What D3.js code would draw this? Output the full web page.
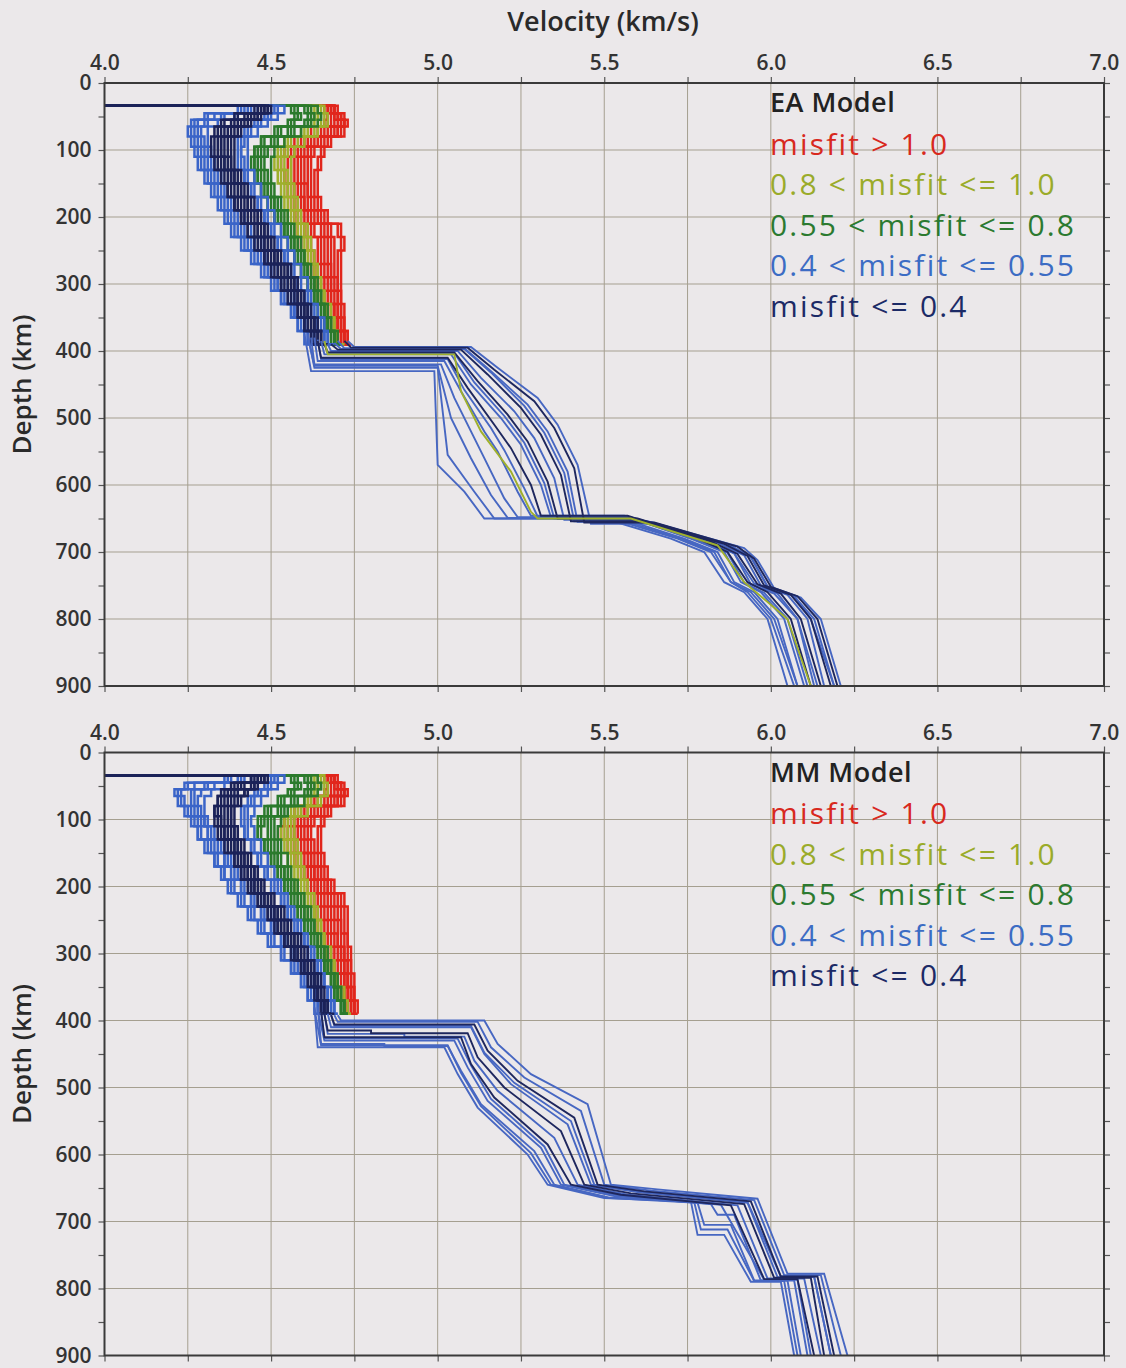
<!DOCTYPE html>
<html><head><meta charset="utf-8">
<script src="https://cdn.jsdelivr.net/npm/d3@7/dist/d3.min.js"></script>
<style>
body{margin:0;background:#ebe8ea;}
svg{display:block;font-family:"Open Sans","Noto Sans",sans-serif;}
</style></head><body>
<svg id="chart" width="1126" height="1368"></svg>
<script>
// ---------------- DATA ----------------
const xMajorTicks = [4.0, 4.5, 5.0, 5.5, 6.0, 6.5, 7.0];
const xMinorTicks = [4.0, 4.25, 4.5, 4.75, 5.0, 5.25, 5.5, 5.75, 6.0, 6.25, 6.5, 6.75, 7.0];
const yMajorTicks = [0, 100, 200, 300, 400, 500, 600, 700, 800, 900];
const yMinorTicks = [0, 50, 100, 150, 200, 250, 300, 350, 400, 450, 500, 550, 600, 650, 700, 750, 800, 850, 900];
const xTitle = "Velocity (km/s)";
const yTitle = "Depth (km)";
const panelTitles = ["EA Model", "MM Model"];
const legendLabels = ["misfit > 1.0", "0.8 < misfit <= 1.0", "0.55 < misfit <= 0.8", "0.4 < misfit <= 0.55", "misfit <= 0.4"];
const crustVelocity = 3.6;
// layer tops of the upper-mantle part (km)
const upperDepths = [34, 45, 55, 65, 80, 95, 110, 130, 150, 170, 190, 210, 230, 250, 270, 290, 310, 330, 350, 370, 390];

// ---- EA model, upper mantle (velocity per layer) ----
const eaRed = [
 [4.66,4.67,4.66,4.62,4.57,4.54,4.53,4.54,4.55,4.56,4.57,4.58,4.59,4.60,4.62,4.63,4.64,4.66,4.68,4.70,4.72],
 [4.67,4.67,4.67,4.64,4.59,4.56,4.55,4.55,4.56,4.57,4.58,4.60,4.61,4.62,4.63,4.64,4.65,4.67,4.69,4.70,4.72],
 [4.67,4.68,4.68,4.65,4.60,4.57,4.56,4.56,4.57,4.58,4.59,4.61,4.62,4.63,4.64,4.65,4.66,4.68,4.69,4.71,4.72],
 [4.68,4.69,4.69,4.66,4.61,4.58,4.57,4.57,4.58,4.59,4.60,4.62,4.64,4.64,4.65,4.66,4.67,4.68,4.70,4.71,4.72],
 [4.68,4.69,4.70,4.67,4.62,4.59,4.58,4.58,4.59,4.60,4.61,4.63,4.65,4.65,4.66,4.67,4.68,4.69,4.70,4.71,4.73],
 [4.69,4.70,4.71,4.68,4.63,4.60,4.59,4.59,4.60,4.60,4.62,4.65,4.66,4.66,4.67,4.68,4.68,4.69,4.70,4.72,4.73],
 [4.68,4.70,4.71,4.69,4.64,4.61,4.60,4.60,4.61,4.61,4.63,4.66,4.67,4.67,4.68,4.68,4.69,4.70,4.71,4.72,4.73],
 [4.69,4.71,4.72,4.70,4.65,4.62,4.61,4.61,4.61,4.62,4.64,4.67,4.68,4.68,4.68,4.69,4.70,4.70,4.71,4.72,4.73],
 [4.69,4.71,4.72,4.70,4.66,4.63,4.62,4.62,4.62,4.63,4.65,4.68,4.69,4.69,4.69,4.70,4.70,4.71,4.71,4.72,4.74],
 [4.69,4.71,4.72,4.71,4.67,4.65,4.64,4.63,4.63,4.64,4.66,4.70,4.71,4.70,4.70,4.70,4.71,4.71,4.72,4.73,4.74],
 [4.70,4.72,4.73,4.72,4.68,4.66,4.65,4.64,4.64,4.65,4.67,4.71,4.72,4.71,4.71,4.71,4.71,4.72,4.72,4.73,4.74]
];
const eaOlive = [
 [4.62,4.63,4.62,4.59,4.54,4.52,4.51,4.52,4.53,4.54,4.55,4.57,4.58,4.60,4.61,4.63,4.64,4.66,4.67,4.69,4.71],
 [4.63,4.64,4.63,4.60,4.55,4.53,4.52,4.53,4.54,4.55,4.56,4.58,4.59,4.60,4.62,4.63,4.65,4.66,4.68,4.69,4.71],
 [4.64,4.65,4.65,4.61,4.56,4.54,4.53,4.54,4.55,4.56,4.57,4.59,4.60,4.61,4.63,4.64,4.65,4.67,4.68,4.70,4.71],
 [4.65,4.66,4.66,4.63,4.58,4.55,4.54,4.55,4.56,4.57,4.58,4.60,4.61,4.62,4.64,4.65,4.66,4.67,4.69,4.70,4.72],
 [4.66,4.67,4.67,4.64,4.60,4.57,4.56,4.56,4.57,4.58,4.59,4.61,4.62,4.63,4.64,4.65,4.66,4.68,4.69,4.70,4.72]
];
const eaGreen = [
 [4.56,4.57,4.55,4.51,4.47,4.45,4.44,4.45,4.47,4.49,4.51,4.53,4.55,4.57,4.59,4.61,4.62,4.64,4.66,4.68,4.70],
 [4.57,4.58,4.56,4.52,4.47,4.45,4.45,4.46,4.47,4.49,4.51,4.54,4.56,4.57,4.59,4.61,4.63,4.65,4.66,4.68,4.70],
 [4.58,4.59,4.57,4.53,4.48,4.46,4.45,4.46,4.48,4.50,4.52,4.54,4.56,4.58,4.60,4.62,4.63,4.65,4.67,4.69,4.70],
 [4.60,4.61,4.60,4.55,4.50,4.47,4.46,4.47,4.49,4.51,4.53,4.55,4.57,4.59,4.61,4.62,4.64,4.66,4.67,4.69,4.71],
 [4.61,4.62,4.61,4.56,4.51,4.48,4.47,4.48,4.49,4.51,4.53,4.55,4.57,4.59,4.61,4.63,4.64,4.66,4.67,4.69,4.71],
 [4.62,4.63,4.62,4.57,4.52,4.49,4.48,4.49,4.50,4.52,4.54,4.56,4.58,4.60,4.61,4.63,4.65,4.66,4.68,4.69,4.71],
 [4.64,4.65,4.64,4.59,4.54,4.51,4.50,4.50,4.51,4.53,4.55,4.57,4.59,4.60,4.62,4.64,4.65,4.67,4.68,4.70,4.71]
];
const eaBlue = [
 [4.40,4.30,4.26,4.25,4.26,4.27,4.28,4.30,4.32,4.34,4.36,4.38,4.41,4.44,4.47,4.50,4.53,4.56,4.58,4.60,4.62],
 [4.41,4.31,4.27,4.26,4.27,4.28,4.29,4.31,4.33,4.35,4.37,4.39,4.42,4.45,4.48,4.51,4.53,4.56,4.58,4.61,4.62],
 [4.42,4.33,4.28,4.27,4.28,4.29,4.30,4.32,4.34,4.36,4.38,4.40,4.43,4.46,4.49,4.52,4.54,4.57,4.59,4.61,4.63],
 [4.43,4.35,4.30,4.28,4.29,4.30,4.31,4.33,4.35,4.37,4.39,4.41,4.44,4.47,4.50,4.52,4.55,4.57,4.60,4.62,4.63],
 [4.44,4.36,4.31,4.29,4.30,4.31,4.32,4.34,4.36,4.38,4.40,4.42,4.45,4.48,4.50,4.53,4.56,4.58,4.60,4.62,4.64],
 [4.46,4.39,4.34,4.31,4.31,4.32,4.33,4.35,4.37,4.39,4.42,4.44,4.47,4.49,4.52,4.55,4.57,4.59,4.61,4.63,4.65],
 [4.50,4.48,4.45,4.42,4.40,4.40,4.40,4.42,4.44,4.46,4.48,4.50,4.52,4.54,4.56,4.58,4.60,4.62,4.64,4.66,4.68],
 [4.51,4.49,4.46,4.43,4.41,4.41,4.41,4.42,4.44,4.46,4.48,4.50,4.52,4.54,4.56,4.58,4.60,4.62,4.64,4.66,4.68],
 [4.52,4.50,4.47,4.44,4.42,4.41,4.42,4.43,4.45,4.47,4.49,4.51,4.53,4.55,4.57,4.59,4.61,4.63,4.65,4.67,4.68],
 [4.54,4.52,4.49,4.46,4.43,4.43,4.43,4.45,4.47,4.49,4.51,4.53,4.55,4.57,4.59,4.61,4.62,4.64,4.66,4.67,4.69]
];
const eaNavy = [
 [4.45,4.39,4.35,4.33,4.32,4.32,4.33,4.35,4.37,4.39,4.41,4.43,4.45,4.48,4.50,4.53,4.55,4.58,4.60,4.62,4.64],
 [4.46,4.40,4.36,4.34,4.33,4.33,4.34,4.36,4.37,4.39,4.41,4.43,4.46,4.48,4.51,4.53,4.56,4.58,4.60,4.62,4.64],
 [4.47,4.42,4.38,4.35,4.34,4.34,4.35,4.37,4.38,4.40,4.42,4.45,4.47,4.49,4.52,4.54,4.57,4.59,4.61,4.63,4.65],
 [4.47,4.43,4.39,4.36,4.35,4.35,4.36,4.38,4.40,4.42,4.44,4.46,4.48,4.51,4.53,4.56,4.58,4.60,4.62,4.64,4.65],
 [4.48,4.44,4.40,4.37,4.35,4.35,4.36,4.38,4.39,4.41,4.43,4.46,4.48,4.50,4.53,4.55,4.58,4.60,4.62,4.64,4.65],
 [4.48,4.45,4.41,4.38,4.36,4.36,4.37,4.39,4.41,4.43,4.45,4.47,4.49,4.51,4.54,4.56,4.58,4.61,4.63,4.64,4.66],
 [4.49,4.46,4.42,4.39,4.37,4.37,4.38,4.39,4.41,4.43,4.46,4.48,4.50,4.52,4.55,4.57,4.59,4.61,4.63,4.65,4.66],
 [4.49,4.46,4.43,4.40,4.38,4.38,4.38,4.40,4.42,4.44,4.46,4.48,4.50,4.52,4.55,4.57,4.59,4.61,4.63,4.65,4.66],
 [4.50,4.47,4.44,4.41,4.39,4.39,4.39,4.41,4.43,4.45,4.47,4.49,4.51,4.53,4.56,4.58,4.60,4.62,4.64,4.65,4.67]
];
// ---- EA model, transition zone and below: [depth, velocity] knots ----
const eaDeepBlue = [
 [[375,4.60],[430,4.62],[430,4.99],[570,5.00],[610,5.08],[650,5.14],[650,5.50],[680,5.70],[700,5.80],[745,5.86],[760,5.92],[800,5.99],[900,6.05]],
 [[375,4.61],[425,4.63],[425,5.00],[555,5.03],[610,5.11],[650,5.17],[650,5.52],[680,5.72],[700,5.82],[745,5.88],[760,5.93],[800,6.00],[900,6.07]],
 [[378,4.61],[422,4.63],[422,5.00],[500,5.04],[560,5.10],[615,5.16],[649,5.21],[649,5.53],[680,5.73],[700,5.83],[745,5.88],[760,5.94],[800,6.01],[900,6.08]],
 [[380,4.62],[420,4.63],[420,5.01],[470,5.05],[520,5.10],[560,5.14],[620,5.20],[648,5.24],[648,5.54],[680,5.74],[700,5.84],[745,5.89],[760,5.95],[800,6.02],[900,6.08]],
 [[380,4.63],[415,4.64],[415,5.02],[460,5.07],[520,5.14],[550,5.18],[610,5.24],[646,5.28],[646,5.56],[680,5.76],[700,5.86],[745,5.91],[760,5.97],[800,6.04],[900,6.10]],
 [[383,4.64],[412,4.65],[412,5.03],[458,5.08],[515,5.16],[548,5.20],[605,5.26],[647,5.30],[647,5.57],[681,5.77],[701,5.87],[746,5.92],[761,5.98],[800,6.05],[900,6.11]],
 [[385,4.65],[405,4.66],[405,5.04],[450,5.10],[500,5.19],[540,5.25],[600,5.31],[648,5.34],[648,5.58],[682,5.80],[702,5.89],[748,5.94],[762,6.01],[800,6.08],[900,6.13]],
 [[388,4.66],[403,4.67],[403,5.05],[447,5.11],[497,5.20],[537,5.26],[597,5.32],[650,5.35],[650,5.59],[683,5.81],[702,5.89],[747,5.95],[762,6.02],[800,6.08],[900,6.14]],
 [[390,4.67],[400,4.68],[400,5.06],[440,5.13],[490,5.23],[530,5.29],[590,5.35],[652,5.38],[652,5.61],[686,5.84],[705,5.92],[750,5.97],[764,6.05],[800,6.11],[900,6.16]],
 [[388,4.69],[397,4.71],[397,5.08],[432,5.16],[482,5.26],[522,5.32],[582,5.38],[654,5.41],[654,5.63],[689,5.87],[707,5.94],[751,5.99],[765,6.07],[800,6.12],[900,6.19]],
 [[385,4.70],[396,4.72],[396,5.08],[430,5.16],[480,5.27],[520,5.33],[580,5.39],[655,5.42],[655,5.64],[690,5.88],[708,5.94],[752,5.99],[766,6.07],[800,6.13],[900,6.19]],
 [[385,4.73],[394,4.75],[394,5.10],[425,5.18],[470,5.30],[510,5.36],[570,5.42],[658,5.46],[658,5.66],[694,5.92],[712,5.96],[754,6.01],[768,6.09],[800,6.15],[900,6.21]]
];
const eaDeepNavy = [
 [[385,4.64],[410,4.65],[410,5.03],[455,5.09],[510,5.17],[545,5.22],[600,5.28],[646,5.31],[646,5.57],[680,5.78],[700,5.87],[745,5.93],[760,5.99],[800,6.06],[900,6.12]],
 [[390,4.66],[402,4.67],[402,5.05],[445,5.12],[495,5.21],[535,5.27],[595,5.33],[650,5.36],[650,5.60],[684,5.82],[703,5.90],[748,5.96],[762,6.03],[800,6.09],[900,6.15]],
 [[390,4.68],[398,4.70],[398,5.07],[435,5.15],[485,5.25],[525,5.31],[585,5.37],[654,5.40],[654,5.62],[688,5.86],[706,5.93],[750,5.98],[764,6.06],[800,6.12],[900,6.18]],
 [[385,4.72],[395,4.74],[395,5.09],[428,5.17],[475,5.29],[515,5.35],[575,5.41],[656,5.44],[656,5.65],[692,5.90],[710,5.95],[752,6.00],[766,6.08],[800,6.14],[900,6.20]]
];
const eaDeepOlive = [
 [[385,4.66],[405,4.67],[405,5.05],[460,5.07],[520,5.13],[580,5.22],[640,5.28],[650,5.30],[650,5.58],[690,5.84],[745,5.92],[800,6.05],[900,6.12]]
];

// ---- MM model, upper mantle ----
const mmRed = [
 [4.66,4.67,4.66,4.62,4.57,4.54,4.53,4.55,4.57,4.59,4.61,4.62,4.63,4.64,4.66,4.67,4.68,4.70,4.71,4.72,4.73],
 [4.67,4.67,4.67,4.63,4.59,4.56,4.55,4.56,4.58,4.60,4.62,4.63,4.64,4.65,4.66,4.68,4.69,4.70,4.72,4.73,4.73],
 [4.67,4.68,4.68,4.64,4.60,4.57,4.56,4.57,4.59,4.61,4.63,4.64,4.65,4.66,4.67,4.68,4.69,4.71,4.72,4.73,4.74],
 [4.68,4.69,4.69,4.66,4.61,4.58,4.57,4.58,4.60,4.62,4.64,4.65,4.66,4.67,4.68,4.69,4.70,4.72,4.73,4.74,4.74],
 [4.68,4.69,4.70,4.67,4.62,4.59,4.58,4.59,4.61,4.63,4.64,4.66,4.67,4.68,4.69,4.70,4.71,4.72,4.73,4.74,4.74],
 [4.69,4.70,4.71,4.68,4.63,4.60,4.59,4.60,4.62,4.63,4.65,4.67,4.68,4.69,4.70,4.71,4.72,4.73,4.74,4.74,4.75],
 [4.68,4.70,4.71,4.69,4.64,4.61,4.60,4.61,4.62,4.64,4.66,4.68,4.69,4.70,4.70,4.71,4.72,4.73,4.74,4.75,4.75],
 [4.69,4.71,4.72,4.70,4.65,4.62,4.61,4.62,4.63,4.65,4.67,4.69,4.70,4.71,4.71,4.72,4.73,4.73,4.74,4.75,4.75],
 [4.69,4.71,4.72,4.70,4.66,4.63,4.62,4.63,4.64,4.65,4.67,4.70,4.71,4.71,4.72,4.72,4.73,4.74,4.74,4.75,4.75],
 [4.69,4.71,4.72,4.71,4.67,4.65,4.64,4.64,4.65,4.66,4.68,4.71,4.72,4.72,4.73,4.73,4.74,4.74,4.75,4.75,4.76],
 [4.70,4.72,4.73,4.72,4.68,4.66,4.65,4.65,4.66,4.67,4.69,4.72,4.73,4.73,4.73,4.74,4.74,4.75,4.75,4.76,4.76]
];
const mmOlive = [
 [4.62,4.63,4.62,4.60,4.56,4.53,4.53,4.54,4.55,4.56,4.57,4.59,4.61,4.63,4.65,4.66,4.67,4.69,4.70,4.72,4.73],
 [4.63,4.64,4.63,4.61,4.57,4.54,4.54,4.55,4.56,4.57,4.58,4.60,4.62,4.63,4.65,4.66,4.68,4.69,4.71,4.72,4.73],
 [4.64,4.65,4.64,4.62,4.58,4.55,4.55,4.56,4.57,4.58,4.59,4.61,4.63,4.64,4.65,4.67,4.68,4.70,4.71,4.72,4.73],
 [4.65,4.66,4.66,4.64,4.59,4.56,4.56,4.57,4.58,4.59,4.60,4.62,4.63,4.65,4.66,4.67,4.69,4.70,4.71,4.72,4.74],
 [4.66,4.67,4.67,4.65,4.61,4.57,4.57,4.58,4.59,4.60,4.61,4.63,4.64,4.65,4.66,4.68,4.69,4.70,4.72,4.73,4.74]
];
const mmGreen = [
 [4.56,4.57,4.55,4.52,4.48,4.46,4.46,4.48,4.50,4.52,4.54,4.56,4.58,4.60,4.62,4.64,4.66,4.68,4.69,4.71,4.72],
 [4.57,4.58,4.56,4.53,4.49,4.47,4.46,4.48,4.50,4.52,4.54,4.56,4.58,4.60,4.62,4.64,4.66,4.68,4.69,4.71,4.72],
 [4.58,4.59,4.57,4.54,4.50,4.48,4.47,4.49,4.51,4.53,4.55,4.57,4.59,4.61,4.63,4.65,4.66,4.68,4.70,4.71,4.72],
 [4.60,4.61,4.60,4.56,4.52,4.49,4.49,4.50,4.52,4.54,4.56,4.58,4.60,4.62,4.64,4.65,4.67,4.69,4.70,4.71,4.73],
 [4.61,4.62,4.61,4.57,4.53,4.50,4.50,4.51,4.52,4.54,4.56,4.58,4.60,4.62,4.64,4.66,4.67,4.69,4.70,4.72,4.73],
 [4.62,4.63,4.62,4.58,4.54,4.51,4.51,4.52,4.53,4.55,4.57,4.59,4.61,4.63,4.64,4.66,4.68,4.69,4.71,4.72,4.73],
 [4.64,4.65,4.64,4.60,4.55,4.53,4.52,4.53,4.55,4.56,4.58,4.60,4.62,4.63,4.65,4.67,4.68,4.70,4.71,4.72,4.73]
];
const mmBlue = [
 [4.36,4.24,4.21,4.22,4.24,4.26,4.28,4.30,4.33,4.35,4.37,4.40,4.43,4.46,4.49,4.53,4.56,4.59,4.61,4.63,4.65],
 [4.37,4.25,4.22,4.23,4.25,4.27,4.28,4.31,4.33,4.36,4.38,4.41,4.44,4.47,4.50,4.53,4.56,4.59,4.61,4.64,4.65],
 [4.38,4.27,4.23,4.24,4.26,4.28,4.29,4.32,4.34,4.36,4.39,4.42,4.45,4.48,4.51,4.54,4.57,4.60,4.62,4.64,4.66],
 [4.40,4.30,4.26,4.26,4.27,4.29,4.31,4.33,4.36,4.38,4.41,4.44,4.47,4.50,4.53,4.56,4.58,4.61,4.63,4.65,4.66],
 [4.41,4.31,4.27,4.27,4.28,4.30,4.31,4.34,4.36,4.39,4.41,4.44,4.47,4.50,4.53,4.56,4.59,4.61,4.63,4.65,4.66],
 [4.42,4.33,4.29,4.28,4.29,4.30,4.32,4.35,4.37,4.40,4.42,4.45,4.48,4.51,4.54,4.57,4.59,4.62,4.64,4.65,4.67],
 [4.44,4.36,4.32,4.30,4.30,4.31,4.33,4.36,4.38,4.41,4.44,4.47,4.50,4.52,4.55,4.58,4.60,4.63,4.65,4.66,4.67],
 [4.50,4.48,4.45,4.43,4.41,4.41,4.42,4.44,4.46,4.48,4.50,4.53,4.55,4.57,4.59,4.61,4.63,4.65,4.67,4.68,4.69],
 [4.51,4.49,4.46,4.44,4.42,4.42,4.42,4.44,4.46,4.49,4.51,4.53,4.55,4.58,4.60,4.62,4.64,4.65,4.67,4.68,4.69],
 [4.52,4.50,4.47,4.45,4.43,4.43,4.43,4.45,4.47,4.49,4.52,4.54,4.56,4.58,4.60,4.62,4.64,4.66,4.67,4.69,4.70],
 [4.54,4.52,4.49,4.47,4.45,4.44,4.45,4.47,4.49,4.51,4.53,4.55,4.57,4.59,4.61,4.63,4.65,4.66,4.68,4.69,4.70]
];
const mmNavy = [
 [4.44,4.38,4.35,4.34,4.33,4.33,4.34,4.36,4.39,4.41,4.43,4.46,4.49,4.51,4.54,4.56,4.59,4.61,4.63,4.65,4.66],
 [4.44,4.39,4.36,4.34,4.33,4.34,4.35,4.37,4.39,4.41,4.44,4.46,4.49,4.52,4.54,4.57,4.59,4.62,4.64,4.65,4.66],
 [4.45,4.40,4.37,4.35,4.34,4.35,4.36,4.38,4.40,4.42,4.44,4.47,4.50,4.52,4.55,4.57,4.60,4.62,4.64,4.65,4.67],
 [4.46,4.41,4.38,4.36,4.35,4.35,4.36,4.39,4.41,4.43,4.45,4.48,4.51,4.53,4.56,4.58,4.60,4.63,4.64,4.66,4.67],
 [4.46,4.42,4.39,4.37,4.36,4.36,4.37,4.39,4.41,4.43,4.45,4.48,4.51,4.53,4.56,4.58,4.61,4.63,4.64,4.66,4.67],
 [4.47,4.44,4.40,4.38,4.37,4.37,4.38,4.40,4.42,4.44,4.46,4.49,4.52,4.54,4.57,4.59,4.61,4.63,4.65,4.66,4.68],
 [4.48,4.45,4.42,4.39,4.38,4.38,4.39,4.40,4.42,4.45,4.47,4.50,4.52,4.55,4.57,4.59,4.62,4.64,4.65,4.67,4.68],
 [4.48,4.45,4.42,4.40,4.38,4.38,4.39,4.41,4.43,4.45,4.47,4.50,4.53,4.55,4.58,4.60,4.62,4.64,4.65,4.67,4.68],
 [4.49,4.46,4.43,4.41,4.39,4.39,4.40,4.42,4.44,4.46,4.48,4.51,4.54,4.56,4.59,4.61,4.63,4.65,4.66,4.67,4.69]
];
// ---- MM model, transition zone and below ----
const mmDeepBlue = [
 [[380,4.63],[440,4.64],[440,5.02],[480,5.06],[530,5.12],[600,5.27],[645,5.33],[665,5.50],[670,5.76],[720,5.78],[720,5.86],[790,5.94],[790,6.03],[900,6.07]],
 [[382,4.63],[437,4.65],[437,5.03],[478,5.07],[528,5.13],[598,5.28],[645,5.34],[664,5.51],[671,5.77],[712,5.79],[712,5.87],[789,5.95],[789,6.04],[900,6.08]],
 [[380,4.64],[435,4.65],[435,4.84],[438,4.84],[438,5.03],[475,5.07],[525,5.13],[595,5.29],[645,5.35],[665,5.52],[672,5.78],[705,5.80],[705,5.88],[788,5.95],[788,6.05],[900,6.09]],
 [[385,4.64],[430,4.66],[430,5.05],[470,5.09],[520,5.15],[590,5.31],[645,5.37],[662,5.53],[674,5.82],[690,5.84],[690,5.89],[788,5.97],[788,6.07],[900,6.11]],
 [[388,4.65],[427,4.66],[427,5.06],[467,5.10],[517,5.16],[588,5.32],[645,5.38],[661,5.54],[675,5.85],[787,5.98],[787,6.08],[900,6.12]],
 [[390,4.66],[420,4.67],[420,4.90],[424,4.90],[424,5.08],[460,5.11],[505,5.18],[575,5.35],[645,5.42],[660,5.57],[676,5.90],[785,5.99],[785,6.10],[900,6.15]],
 [[390,4.67],[410,4.68],[410,5.10],[450,5.14],[495,5.22],[555,5.39],[645,5.46],[656,5.60],[672,5.93],[783,6.02],[783,6.13],[900,6.18]],
 [[391,4.68],[408,4.69],[408,5.10],[448,5.14],[493,5.23],[550,5.40],[645,5.47],[656,5.61],[671,5.93],[782,6.03],[782,6.13],[900,6.18]],
 [[392,4.69],[402,4.70],[402,5.12],[440,5.16],[485,5.26],[535,5.43],[645,5.50],[654,5.64],[668,5.95],[780,6.04],[780,6.15],[900,6.21]],
 [[392,4.70],[400,4.71],[400,5.14],[435,5.18],[480,5.28],[525,5.45],[645,5.52],[652,5.66],[666,5.96],[778,6.05],[778,6.16],[900,6.23]]
];
const mmDeepNavy = [
 [[385,4.65],[425,4.66],[425,5.07],[465,5.10],[515,5.17],[585,5.33],[645,5.40],[660,5.55],[676,5.88],[786,5.98],[786,6.08],[900,6.13]],
 [[390,4.66],[415,4.67],[415,4.80],[419,4.80],[419,5.09],[455,5.12],[500,5.20],[565,5.37],[645,5.44],[658,5.58],[674,5.92],[784,6.01],[784,6.12],[900,6.16]],
 [[392,4.68],[406,4.69],[406,5.11],[445,5.15],[490,5.24],[545,5.41],[645,5.48],[655,5.62],[670,5.94],[782,6.03],[782,6.14],[900,6.19]]
];

// ---------------- DRAWING ----------------
const colors = {red:"#e1261c", olive:"#9fb02c", green:"#2b7a2c", blue:"#3a64c8", navy:"#1b2258", deepBlue:"#4767c2", deepNavy:"#1e275e"};
const legendColors = ["#d8291e", "#9aab2a", "#2c7a30", "#3c6cc4", "#1c2a66"];
const svg = d3.select("#chart");
const x = d3.scaleLinear().domain([4, 7]).range([104.5, 1104]);
const plotH = 603;
const panels = [
  {top: 83, title: panelTitles[0], upper: [[eaRed,"red"],[eaOlive,"olive"],[eaGreen,"green"],[eaBlue,"blue"],[eaNavy,"navy"]],
   deep: [[eaDeepBlue,"deepBlue"],[eaDeepNavy,"deepNavy"],[eaDeepOlive,"olive"]]},
  {top: 752.5, title: panelTitles[1], upper: [[mmRed,"red"],[mmOlive,"olive"],[mmGreen,"green"],[mmBlue,"blue"],[mmNavy,"navy"]],
   deep: [[mmDeepBlue,"deepBlue"],[mmDeepNavy,"deepNavy"]]}
];

svg.append("text").attr("x", 603).attr("y", 22).attr("dy", "0.35em")
  .attr("text-anchor", "middle").attr("font-size", 27).attr("font-weight", 600).attr("fill", "#2a2a2a").text(xTitle);

panels.forEach((p, i) => {
  const y = d3.scaleLinear().domain([0, 900]).range([p.top, p.top + plotH]);
  const g = svg.append("g");
  g.append("clipPath").attr("id", "clip" + i).append("rect")
    .attr("x", x(4)).attr("y", y(0)).attr("width", x(7) - x(4)).attr("height", y(900) - y(0));

  // grid
  const grid = g.append("g").attr("stroke", "#a59f90").attr("stroke-width", 1);
  grid.selectAll(".vg").data(xMinorTicks.slice(1, -1)).join("line")
    .attr("x1", d => x(d)).attr("x2", d => x(d)).attr("y1", y(0)).attr("y2", y(900));
  grid.selectAll(".hg").data(yMajorTicks.slice(1, -1)).join("line")
    .attr("x1", x(4)).attr("x2", x(7)).attr("y1", d => y(d)).attr("y2", d => y(d));

  const plot = g.append("g").attr("clip-path", `url(#clip${i})`).attr("fill", "none");
  const stepLine = d3.line().x(d => x(d[0])).y(d => y(d[1])).curve(d3.curveStepBefore);
  const linLine = d3.line().x(d => x(d[1])).y(d => y(d[0]));

  p.upper.forEach(([profiles, key]) => {
    plot.append("g").selectAll("path").data(profiles).join("path")
      .attr("d", vs => stepLine([[crustVelocity, 0]].concat(vs.map((v, k) => [v, upperDepths[k]]))))
      .attr("stroke", colors[key]).attr("stroke-width", 2.5).attr("stroke-linejoin", "miter");
  });
  p.deep.forEach(([profiles, key]) => {
    plot.append("g").selectAll("path").data(profiles).join("path")
      .attr("d", linLine).attr("stroke", colors[key]).attr("stroke-width", 1.9);
  });

  // axes
  const axG = g.append("g");
  const top = axG.append("g").attr("transform", `translate(0,${y(0)})`)
    .call(d3.axisTop(x).tickValues(xMinorTicks).tickSize(6).tickFormat(""));
  const topLab = axG.append("g").attr("transform", `translate(0,${y(0)})`)
    .call(d3.axisTop(x).tickValues(xMajorTicks).tickSize(0).tickPadding(13).tickFormat(d3.format(".1f")));
  const bot = axG.append("g").attr("transform", `translate(0,${y(900)})`)
    .call(d3.axisBottom(x).tickValues(xMinorTicks).tickSize(6).tickFormat(""));
  const left = axG.append("g").attr("transform", `translate(${x(4)},0)`)
    .call(d3.axisLeft(y).tickValues(yMinorTicks).tickSize(6).tickPadding(7).tickFormat(d => d % 100 === 0 ? d : ""));
  const right = axG.append("g").attr("transform", `translate(${x(7)},0)`)
    .call(d3.axisRight(y).tickValues(yMinorTicks).tickSize(6).tickFormat(""));
  [top, topLab, bot, left, right].forEach(a => {
    a.select(".domain").remove();
    a.selectAll(".tick line").attr("stroke", "#555").attr("stroke-width", 1.2);
    a.selectAll(".tick text").attr("font-family", "'Open Sans','Noto Sans',sans-serif")
      .attr("font-size", 21).attr("font-weight", 600).attr("fill", "#333");
  });

  // frame
  g.append("rect").attr("x", x(4)).attr("y", y(0)).attr("width", x(7) - x(4)).attr("height", y(900) - y(0))
    .attr("fill", "none").attr("stroke", "#3a3a3a").attr("stroke-width", 2);

  // y title
  g.append("text").attr("transform", `translate(22,${y(450)}) rotate(-90)`).attr("dy", "0.35em")
    .attr("text-anchor", "middle").attr("font-size", 26).attr("font-weight", 600).attr("fill", "#2a2a2a").text(yTitle);

  // legend
  const lg = g.append("g");
  lg.append("text").attr("x", 770).attr("y", p.top + 20).attr("dy", "0.35em")
    .attr("font-size", 27).attr("letter-spacing", 0.5).attr("font-weight", 600).attr("fill", "#222").text(p.title);
  lg.selectAll(".li").data(legendLabels).join("text")
    .attr("x", 770).attr("y", (d, k) => p.top + 61 + k * 40.5).attr("dy", "0.35em")
    .attr("font-size", 30).attr("letter-spacing", 2.2)
    .attr("fill", (d, k) => legendColors[k]).text(d => d);
});
</script>
</body></html>
